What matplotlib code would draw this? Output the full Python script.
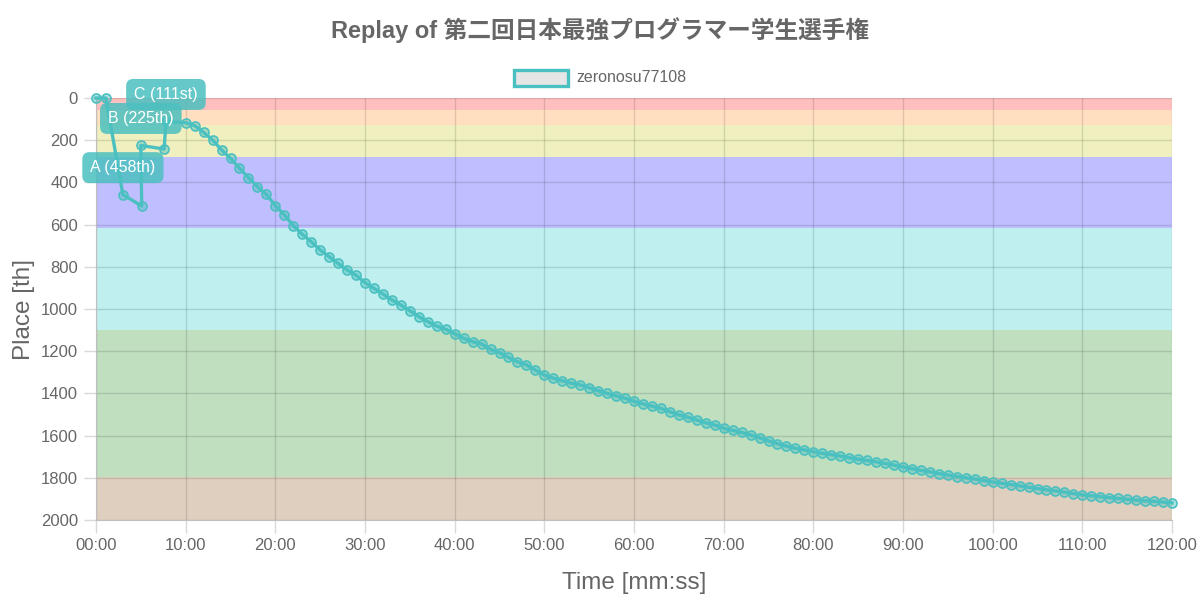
import matplotlib
matplotlib.use("Agg")
import matplotlib.pyplot as plt
from matplotlib.patches import Rectangle

plt.rcParams["font.family"] = ["Liberation Sans", "Noto Sans CJK JP", "DejaVu Sans"]

# early submissions (irregular times, minutes)
early_t = [0, 1.1, 3.0, 5.1, 5.0, 7.6, 7.8]
early_p = [0, 0, 458, 512, 225, 242, 111]

# per-minute replay from 10:00 to 120:00
main_t = list(range(10, 121))
main_p = [
    117, 131, 163, 199, 246, 286, 333, 377, 420, 457, 510,
    554, 605, 646, 681, 720, 752, 784, 815, 840, 875,
    902, 929, 957, 981, 1008, 1036, 1060, 1081, 1096, 1117,
    1139, 1155, 1166, 1191, 1207, 1229, 1250, 1265, 1289, 1313,
    1328, 1340, 1352, 1360, 1373, 1387, 1400, 1412, 1423, 1437,
    1450, 1460, 1471, 1487, 1502, 1513, 1526, 1539, 1550, 1565,
    1575, 1585, 1597, 1610, 1625, 1638, 1650, 1660, 1668, 1676,
    1684, 1690, 1697, 1705, 1712, 1718, 1724, 1732, 1740, 1749,
    1757, 1765, 1772, 1780, 1787, 1794, 1800, 1806, 1813, 1820,
    1826, 1832, 1838, 1845, 1851, 1857, 1862, 1868, 1875, 1881,
    1885, 1890, 1894, 1898, 1902, 1906, 1909, 1912, 1915, 1919,
]

times = early_t + main_t
places = early_p + main_p

# annotated points: (label, index into times/places)
notes = [("A (458th)", 2), ("B (225th)", 4), ("C (111st)", 6)]

# rank colour bands
band_edges = [0, 55, 128, 280, 615, 1100, 1795, 2000]
band_colors = ["#ff0000", "#ff8000", "#c0c000", "#0000ff", "#00c0c0", "#008000", "#804000"]

teal = (75 / 255, 192 / 255, 192 / 255)
gray = "#666666"

fig = plt.figure(figsize=(12, 6), dpi=100)
ax = fig.add_axes([0.08, 1 - 520 / 600, (1172 - 96) / 1200, (520 - 98) / 600])

for lo, hi, c in zip(band_edges[:-1], band_edges[1:], band_colors):
    ax.axhspan(lo, hi, color=c, alpha=0.25, lw=0, zorder=0)

ax.set_xlim(0, 120)
ax.set_ylim(2000, 0)
ax.set_xticks(range(0, 121, 10))
ax.set_xticklabels([f"{m:02d}:00" for m in range(0, 121, 10)])
ax.set_yticks(range(0, 2001, 200))
for s in ["top", "right"]:
    ax.spines[s].set_visible(False)
for s in ["left", "bottom"]:
    ax.spines[s].set_color("#bfbfbf")
ax.tick_params(color="#d9d9d9", labelcolor=gray, labelsize=12, length=9, width=1, pad=4)
ax.set_axisbelow(True)
ax.grid(True, color="black", alpha=0.12, lw=1)

ax.plot(times, places, color=teal, lw=2.4, marker="o", ms=6.5,
        mfc=(*teal, 0.45), mec=teal, mew=1.2, zorder=4, clip_on=False)

for text, i in notes:
    ax.annotate(text, (times[i], places[i]), xytext=(0, 27), textcoords="offset pixels",
                ha="center", va="center", color="white", fontsize=11.5, zorder=6,
                bbox=dict(boxstyle="round,pad=0.5,rounding_size=0.45", fc=(*teal, 0.85), ec="none"))

ax.set_xlabel("Time [mm:ss]", fontsize=17.5, color=gray, labelpad=14)
ax.set_ylabel("Place [th]", fontsize=17.5, color=gray, labelpad=4)

fig.text(0.5, 1 - 30 / 600, "Replay of 第二回日本最強プログラマー学生選手権",
         ha="center", va="center", fontsize=17, fontweight="bold", color=gray)

# legend swatch
fig.patches.append(Rectangle((514 / 1200, 1 - 86 / 600), 54 / 1200, 16 / 600,
                             transform=fig.transFigure, fc="#e6e6e6", ec=teal, lw=2.4))
fig.text(576 / 1200, 1 - 77 / 600, "zeronosu77108", ha="left", va="center",
         fontsize=11.5, color=gray)

fig.savefig("out.png", dpi=100)
